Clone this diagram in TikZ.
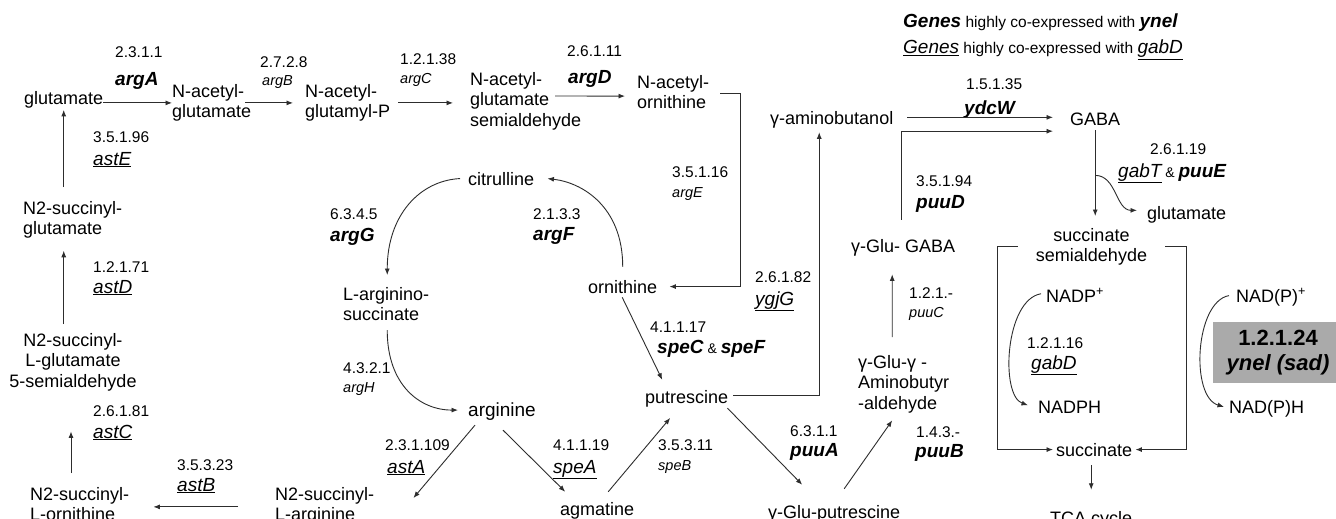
\documentclass[tikz,border=0pt]{standalone}
\usepackage{fontspec}
\setmainfont{Liberation Sans}
\usetikzlibrary{arrows.meta,calc}
\definecolor{boxgray}{RGB}{170,170,170}
\definecolor{linec}{RGB}{45,45,45}
% font sizes used in the pathway
\newcommand\metf{\fontsize{18}{20.6}\selectfont}
\newcommand\argf{\fontsize{19}{22}\selectfont}
\newcommand\ecf{\fontsize{15.5}{17}\selectfont}
\newcommand\gbf{\fontsize{19}{21}\selectfont\bfseries\itshape}
\newcommand\gsf{\fontsize{14.5}{17}\selectfont\itshape}
\newcommand\boxf{\fontsize{22}{24.5}\selectfont\bfseries}
\newcommand\legf{\fontsize{15.5}{18}\selectfont}
% gene name styles: bold italic, underlined italic, small italic
\newcommand\gb[1]{{\gbf #1}}
\newcommand\gu[1]{\underline{\fontsize{19}{21}\selectfont\itshape #1}}
\newcommand\gs[1]{{\gsf #1}}
\newcommand\andsep{{\fontsize{14}{16}\selectfont\ \&\ }}
\begin{document}
\begin{tikzpicture}[x=1pt,y=-1pt,
  met/.style={inner sep=0pt, font=\metf},
  lab/.style={inner sep=0pt, anchor=base west},
  arr/.style={draw=linec, line width=0.9pt, -{Latex[length=6.5pt,width=5pt]}}]
\useasboundingbox (0,0) rectangle (1336,519);
\fill[white] (0,0) rectangle (1336,519);

% legend
\node[lab, font=\legf] (leg1) at (903,28) {\gb{Genes} highly co-expressed with \gb{ynel}};
\node[lab, font=\legf] (leg2) at (903,54) {\gu{Genes} highly co-expressed with \gu{gabD}};

% metabolites
\node[met, anchor=base west] (glu) at (24,104) {glutamate};
\node[met, anchor=north west, align=left] (nag) at (172,84) {N-acetyl-\\glutamate};
\node[met, anchor=north west, align=left] (nagp) at (305,84) {N-acetyl-\\glutamyl-P};
\node[met, anchor=north west, align=left] (nagsa) at (470,72) {N-acetyl-\\glutamate\\semialdehyde};
\node[met, anchor=north west, align=left] (nao) at (637,75) {N-acetyl-\\ornithine};
\node[met, anchor=base west] (orn) at (588,293) {ornithine};
\node[met, anchor=base west] (cit) at (468,185) {citrulline};
\node[met, anchor=north west, align=left] (asuc) at (343,287) {L-arginino-\\succinate};
\node[met, font=\argf, anchor=base west] (arg) at (468,416) {arginine};
\node[met, anchor=base west] (agm) at (560,515) {agmatine};
\node[met, anchor=base west] (put) at (645,403) {putrescine};
\node[met, anchor=north west, align=left] (nsa) at (275,487) {N2-succinyl-\\L-arginine};
\node[met, anchor=north west, align=left] (nso) at (30,487) {N2-succinyl-\\L-ornithine};
\node[met, anchor=north, align=center] (nsg5) at (73,333) {N2-succinyl-\\L-glutamate\\5-semialdehyde};
\node[met, anchor=north west, align=left] (nsg) at (23,201) {N2-succinyl-\\glutamate};
\node[met, anchor=base west] (gabol) at (770,124) {γ-aminobutanol};
\node[met, anchor=base west] (gaba) at (1070,125) {GABA};
\node[met, anchor=base west] (ggaba) at (851,252) {γ-Glu- GABA};
\node[met, anchor=north west, align=left] (ggab) at (858,355) {γ-Glu-γ -\\Aminobutyr\\-aldehyde};
\node[met, anchor=base west] (gputr) at (768,518) {γ-Glu-putrescine};
\node[met, anchor=base west] (glu2) at (1147,219) {glutamate};
\node[met, anchor=north, align=center] (ssa) at (1091.5,228) {succinate\\semialdehyde};
\node[met, anchor=base west] (suc) at (1056,456) {succinate};
\node[met, anchor=base west] (tca) at (1050,524) {TCA cycle};
\node[met, anchor=base west] (nadp) at (1046,302) {NADP\textsuperscript{+}};
\node[met, anchor=base west] (nadph) at (1038,413) {NADPH};
\node[met, anchor=base west] (nadpp) at (1236,302) {NAD(P)\textsuperscript{+}};
\node[met, anchor=base west] (nadpph) at (1229,413) {NAD(P)H};

% succinate semialdehyde dehydrogenase box
\node[fill=boxgray, minimum width=130pt, minimum height=61pt, inner sep=0pt,
      align=center, font=\boxf] (sad) at (1278,352.5) {1.2.1.24\\\textit{ynel (sad)}};

% enzyme numbers and genes
\node[lab] (ecA) at (115,58) {\ecf 2.3.1.1};
\node[lab] (gA) at (115,85) {\gb{argA}};
\node[lab] (ecB) at (260,67) {\ecf 2.7.2.8};
\node[lab] (gB) at (262,85) {\gs{argB}};
\node[lab] (ecC) at (400,65) {\ecf 1.2.1.38};
\node[lab] (gC) at (400,84) {\gs{argC}};
\node[lab] (ecD) at (567,57) {\ecf 2.6.1.11};
\node[lab] (gD) at (568,83) {\gb{argD}};
\node[lab] (ecE) at (672,177) {\ecf 3.5.1.16};
\node[lab] (gE) at (672,197) {\gs{argE}};
\node[lab] (ecF) at (533,219) {\ecf 2.1.3.3};
\node[lab] (gF) at (533,240) {\gb{argF}};
\node[lab] (ecG) at (330,219) {\ecf 6.3.4.5};
\node[lab] (gG) at (330,241) {\gb{argG}};
\node[lab] (ecH) at (343,373) {\ecf 4.3.2.1};
\node[lab] (gH) at (343,392) {\gs{argH}};
\node[lab] (ecastE) at (93,142) {\ecf 3.5.1.96};
\node[lab] (gastE) at (93,165) {\gu{astE}};
\node[lab] (ecastD) at (93,272) {\ecf 1.2.1.71};
\node[lab] (gastD) at (93,293) {\gu{astD}};
\node[lab] (ecastC) at (93,416) {\ecf 2.6.1.81};
\node[lab] (gastC) at (93,438) {\gu{astC}};
\node[lab] (ecastB) at (177,470) {\ecf 3.5.3.23};
\node[lab] (gastB) at (177,491) {\gu{astB}};
\node[lab] (ecastA) at (385,450) {\ecf 2.3.1.109};
\node[lab] (gastA) at (387,473) {\gu{astA}};
\node[lab] (ecspeA) at (553,450) {\ecf 4.1.1.19};
\node[lab] (gspeA) at (553,473) {\gu{speA}};
\node[lab] (ecspeB) at (658,450) {\ecf 3.5.3.11};
\node[lab] (gspeB) at (658,470) {\gs{speB}};
\node[lab] (ecspeC) at (650,332) {\ecf 4.1.1.17};
\node[lab] (gspeC) at (657,353) {\gb{speC}\andsep\gb{speF}};
\node[lab] (ecygjG) at (755,282) {\ecf 2.6.1.82};
\node[lab] (gygjG) at (755,305) {\gu{ygjG}};
\node[lab] (ecpuuA) at (790,436) {\ecf 6.3.1.1};
\node[lab] (gpuuA) at (790,456) {\gb{puuA}};
\node[lab] (ecpuuB) at (916,437) {\ecf 1.4.3.-};
\node[lab] (gpuuB) at (915,457) {\gb{puuB}};
\node[lab] (ecpuuC) at (909,298) {\ecf 1.2.1.-};
\node[lab] (gpuuC) at (909,317) {\gs{puuC}};
\node[lab] (ecpuuD) at (916,186) {\ecf 3.5.1.94};
\node[lab] (gpuuD) at (916,208) {\gb{puuD}};
\node[lab] (ecydcW) at (966,89) {\ecf 1.5.1.35};
\node[lab] (gydcW) at (964,114) {\gb{ydcW}};
\node[lab] (ecgabT) at (1150,154) {\ecf 2.6.1.19};
\node[lab] (ggabT) at (1118,177) {\gu{gabT}\andsep\gb{puuE}};
\node[lab] (ecgabD) at (1027,348) {\ecf 1.2.1.16};
\node[lab] (ggabD) at (1031,369) {\gu{gabD}};

% arginine biosynthesis
\draw[arr] (glu.east |- nag.west) -- (nag.west);
\draw[arr] ($(nag.east)+(-6,0)$) -- ($(nagp.west)+(-12,0)$);
\draw[arr] ($(nagp.east)+(8,0)$) -- ($(nagp.east -| nagsa.west)+(-17,0)$);
\draw[arr] ($(nagsa.north west)+(85,24)$) -- ($(nao.west)+(-12,4)$);
\draw[arr] ($(nao.east)+(11,1)$) -- ++(20,0) |- ($(orn.east)+(12,0)$);
\draw[arr] ($(orn.north)+(0,-13)$) .. controls +(0,-60) and +(35,4) .. ($(cit.east)+(13,0)$);
\draw[arr] ($(cit.west)+(-8,0)$) .. controls +(-40,2) and +(0,-60) .. ($(asuc.north)+(1,-12)$);
\draw[arr] ($(asuc.south)+(1,9)$) .. controls +(0,55) and +(-38,0) .. ($(arg.west)+(-10,-1)$);

% arginine degradation (AST pathway)
\draw[arr] ($(arg.south)+(-27,5)$) -- ($(nsa.north east)+(39,11)$);
\draw[arr] ($(nsa.west)+(-37,1)$) -- ($(nso.east |- nsa.west)+(24,1)$);
\draw[arr] ($(nsg5.south |- nso.north)+(-2,-14)$) -- ($(nsg5.south)+(-2,40)$);
\draw[arr] ($(glu.south |- nsg5.north)+(0,-9)$) -- ($(glu.south |- nsg.south)+(0,12)$);
\draw[arr] ($(glu.south |- nsg.north)+(0,-14)$) -- ($(glu.south)+(0,2)$);

% putrescine formation
\draw[arr] ($(arg.south)+(1,10)$) -- ($(agm.north)+(-32,-10)$);
\draw[arr] ($(agm.north)+(11,-10)$) -- ($(put.south)+(-16.5,11)$);
\draw[arr] ($(orn.south)+(-0.5,4)$) -- ($(put.north)+(-24.5,-10)$);

% putrescine to GABA
\draw[arr] ($(put.east)+(5,-2.4)$) -| ($(gabol.south)+(-12.5,4.4)$);
\draw[arr] ($(gabol.east)+(14,-2)$) -- ($(gabol.east -| gaba.west)+(-17,-2)$);
\draw[arr] ($(put.south east)+(-1,1.2)$) -- ($(gputr.north)+(-32,-20)$);
\draw[arr] ($(gputr.north)+(10,-16)$) -- ($(ggab.south)+(-11.5,7)$);
\draw[arr] ($(ggab.north)+(-11.5,-18)$) -- ($(ggaba.south)+(-11,18.4)$);
\draw[arr] ($(ggaba.north)+(-2,-19)$) |- ($(gaba.west)+(-17,12.4)$);

% GABA to succinate
\draw[arr] ($(gaba.south)+(0,5)$) -- ($(gaba.south |- ssa.north)+(0,-12)$);
\draw[arr] ($(gaba.south)+(0,50)$) to[out=0,in=180] ($(glu2.west)+(-10,-4)$);
\draw[arr] ($(ssa.north west)+(-18,18)$) -- ++(-20,0) |- ($(suc.west)+(-3,0)$);
\draw[arr] ($(ssa.north east)+(18,18)$) -- ++(21,0) |- ($(suc.east)+(3,0)$);
\draw[arr] ($(tca.north |- suc.south)+(0,9)$) -- ($(tca.north)+(0,-21)$);
\draw[arr] ($(nadp.west)+(-5,-1.5)$) .. controls +(-36,6) and +(-28,-10) .. ($(nadph.west)+(-10,-1.5)$);
\draw[arr] ($(nadpp.west)+(-7,-1.5)$) .. controls +(-34,6) and +(-34,-10) .. ($(nadpph.west)+(-5,-1.5)$);
\end{tikzpicture}
\end{document}
